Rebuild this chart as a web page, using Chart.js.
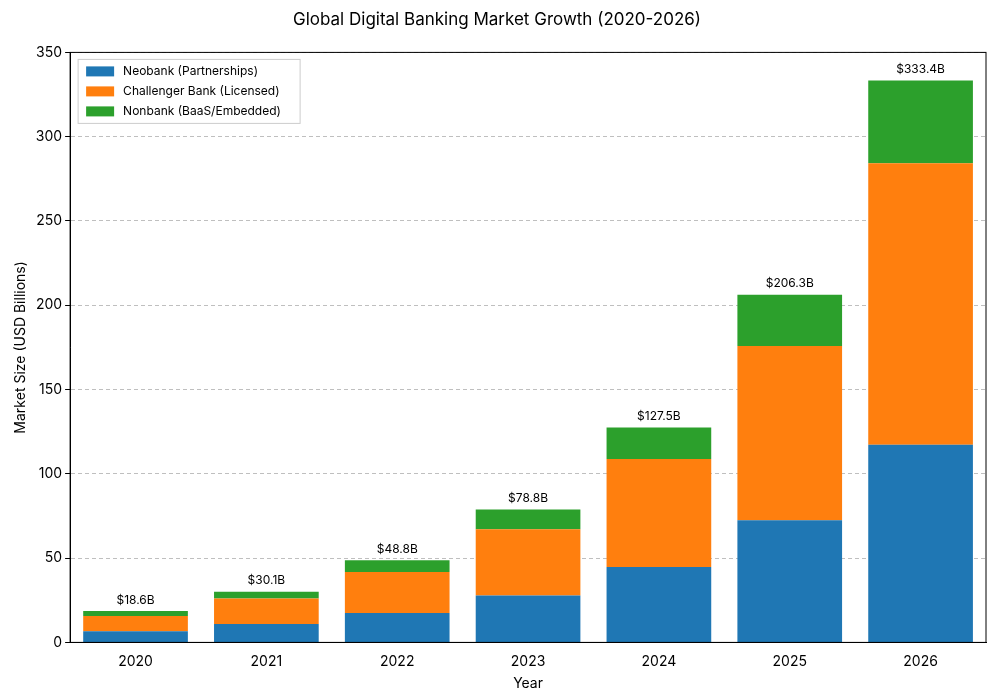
<!DOCTYPE html>
<html>
<head>
<meta charset="utf-8">
<script src="https://cdn.jsdelivr.net/npm/chart.js@4"></script>
<style>
  body { margin: 0; background: #fff; }
</style>
</head>
<body>
<canvas id="grafica" width="1000" height="700"></canvas>
<script>
const years = ['2020', '2021', '2022', '2023', '2024', '2025', '2026'];
const neobank = [6.6, 10.9, 17.5, 27.8, 44.7, 72.5, 117.3];
const challenger = [9.1, 15.1, 24.2, 39.3, 64.1, 103.4, 166.9];
const nonbank = [2.9, 4.1, 7.1, 11.7, 18.7, 30.4, 49.2];
const totals = [18.6, 30.1, 48.8, 78.8, 127.5, 206.3, 333.4];

Chart.defaults.font.family = 'Inter, "Open Sans", sans-serif';
Chart.defaults.color = '#000';

// box around plot, totals above bars, legend inside the plot
const extras = {
  id: 'extras',
  afterDraw(chart) {
    const { ctx, chartArea: a } = chart;
    ctx.save();
    ctx.setLineDash([]);
    ctx.strokeStyle = '#000';
    ctx.lineWidth = 1;
    ctx.strokeRect(a.left, a.top, a.right - a.left, a.bottom - a.top);

    const meta = chart.getDatasetMeta(2);
    ctx.fillStyle = '#000';
    ctx.font = '12px Inter, sans-serif';
    ctx.textAlign = 'center';
    ctx.textBaseline = 'bottom';
    meta.data.forEach((bar, i) => {
      ctx.fillText('$' + totals[i].toFixed(1) + 'B', bar.x, bar.y - 5);
    });

    const x0 = a.left + 8, y0 = a.top + 7;
    ctx.fillStyle = '#fff';
    ctx.strokeStyle = '#ccc';
    ctx.fillRect(x0, y0, 222, 64);
    ctx.strokeRect(x0, y0, 222, 64);
    ctx.textAlign = 'left';
    ctx.textBaseline = 'middle';
    chart.data.datasets.forEach((ds, i) => {
      const y = y0 + 12 + i * 20;
      ctx.fillStyle = ds.backgroundColor;
      ctx.fillRect(x0 + 8, y - 5, 28, 10);
      ctx.fillStyle = '#000';
      ctx.fillText(ds.label, x0 + 45, y);
    });
    ctx.restore();
  }
};

new Chart(document.getElementById('grafica'), {
  type: 'bar',
  data: {
    labels: years,
    datasets: [
      { label: 'Neobank (Partnerships)', data: neobank, backgroundColor: '#1f77b4' },
      { label: 'Challenger Bank (Licensed)', data: challenger, backgroundColor: '#ff7f0e' },
      { label: 'Nonbank (BaaS/Embedded)', data: nonbank, backgroundColor: '#2ca02c' }
    ]
  },
  options: {
    responsive: false,
    animation: false,
    devicePixelRatio: 1,
    layout: { padding: { left: 8, right: 14, top: 6, bottom: 4 } },
    datasets: { bar: { categoryPercentage: 1, barPercentage: 0.8 } },
    scales: {
      x: {
        stacked: true,
        grid: { display: false },
        border: { color: '#000' },
        ticks: { font: { size: 14 } },
        title: { display: true, text: 'Year', font: { size: 14 }, padding: { top: 2 } }
      },
      y: {
        stacked: true,
        min: 0, max: 350,
        ticks: { stepSize: 50, font: { size: 14 } },
        border: { color: '#000', dash: [4, 3] },
        grid: { color: 'rgba(0,0,0,0.25)', tickLength: 5, tickColor: '#000' },
        title: { display: true, text: 'Market Size (USD Billions)', font: { size: 14 } }
      }
    },
    plugins: {
      legend: { display: false },
      tooltip: { enabled: false },
      title: {
        display: true,
        text: 'Global Digital Banking Market Growth (2020-2026)',
        font: { size: 17, weight: 'normal' },
        padding: { top: 4, bottom: 22 }
      }
    }
  },
  plugins: [extras]
});
</script>
</body>
</html>
